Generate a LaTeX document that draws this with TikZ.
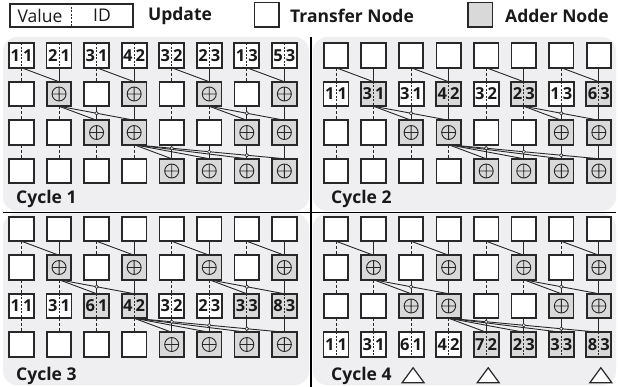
\documentclass[tikz,border=0pt]{standalone}
\usepackage{fontspec}
\setmainfont{Open Sans}
\usetikzlibrary{calc}
\definecolor{panelbg}{RGB}{239,239,241}
\definecolor{addfill}{RGB}{217,217,217}
\definecolor{ink}{RGB}{40,40,40}
\definecolor{txt}{RGB}{25,25,25}
\tikzset{
  box/.style={draw=ink, line width=1.8pt, minimum width=24.5pt, minimum height=24.5pt, inner sep=0pt, outer sep=0pt},
  tnode/.style={box, fill=white},
  anode/.style={box, fill=addfill},
  oplus/.style={path picture={\draw[ink, line width=0.9pt] (path picture bounding box.center) circle (7pt)
      ($(path picture bounding box.center)+(-7pt,0pt)$) -- ++(14pt,0pt)
      ($(path picture bounding box.center)+(0pt,-7pt)$) -- ++(0pt,14pt);}},
  divided/.style={path picture={\draw[ink, line width=0.9pt, dash pattern=on 2pt off 1.5pt]
      (path picture bounding box.north) -- (path picture bounding box.south);}},
  labfont/.style={font=\bfseries\fontsize{16.5}{16.5}\selectfont, text=txt},
  conn/.style={draw=ink, line width=0.9pt},
  dconn/.style={draw=ink, line width=0.9pt, dash pattern=on 3pt off 2pt},
  hop/.style={draw=ink, line width=0.6pt, fill=panelbg},
  legtxt/.style={font=\fontsize{17.5}{20}\selectfont, text=txt, inner sep=0pt},
  legbold/.style={font=\bfseries\fontsize{17.5}{20}\selectfont, text=txt, inner sep=0pt},
}
\newcommand\lab[2]{\makebox[12.5pt]{#1}\makebox[12.5pt]{#2}}
\newcommand\adflag[2]{%
  \pgfmathtruncatemacro\isad{((#1==1)&&(mod(#2,2)==1))||((#1==2)&&(mod(#2,4)>=2))||((#1==3)&&(#2>=4))}%
}
% #1 name, #2 x of col 0, #3 y of row 0, #4 labelled row, #5 labels
\newcommand\drawpanel[5]{%
  \foreach \prow in {0,...,3}{%
    \foreach \pcol in {0,...,7}{%
      \adflag{\prow}{\pcol}%
      \ifnum\prow=#4\relax\else
        \ifnum\isad=1
          \node[anode,oplus] (#1r\prow c\pcol) at ({#2+37.55*\pcol},{#3+38.5*\prow}) {};
        \else
          \node[tnode] (#1r\prow c\pcol) at ({#2+37.55*\pcol},{#3+38.5*\prow}) {};
        \fi
      \fi
    }}%
  \foreach \lv/\li [count=\lk from 0] in {#5}{%
    \adflag{#4}{\lk}%
    \ifnum\isad=1
      \node[anode,divided,labfont] (#1r#4c\lk) at ({#2+37.55*\lk},{#3+38.5*#4}) {\lab{\lv}{\li}};
    \else
      \node[tnode,divided,labfont] (#1r#4c\lk) at ({#2+37.55*\lk},{#3+38.5*#4}) {\lab{\lv}{\li}};
    \fi
  }%
  % vertical connectors
  \foreach \prow in {0,1,2}{%
    \foreach \pcol in {0,...,7}{%
      \pgfmathtruncatemacro\nrow{\prow+1}%
      \adflag{\nrow}{\pcol}%
      \ifnum\isad=1
        \draw[conn] (#1r\prow c\pcol.south) -- (#1r\nrow c\pcol.north);
      \else
        \draw[dconn] (#1r\prow c\pcol.south) -- (#1r\nrow c\pcol.north);
      \fi
    }}%
  % diagonal connectors
  \foreach \ha/\hb in {0/1,2/3,4/5,6/7}{\draw[conn] (#1r0c\ha.south) -- (#1r1c\hb.north);}%
  \foreach \ha/\hb in {1/2,1/3,5/6,5/7}{\draw[conn] (#1r1c\ha.south) -- (#1r2c\hb.north);}%
  \foreach \hb in {4,5,6,7}{\draw[conn] (#1r2c3.south) -- (#1r3c\hb.north);}%
  % line jumps
  \foreach \ha/\hb in {1/3,5/7}{\draw[hop] ($(#1r1c\ha.south)!0.5!(#1r2c\hb.north)$) circle (1.8pt);}%
  \foreach \hf in {0.25,0.5,0.75}{\draw[hop] ($(#1r2c3.south)!\hf!(#1r3c7.north)$) circle (1.8pt);}%
}
\begin{document}
\begin{tikzpicture}[x=1pt,y=-1pt]
\useasboundingbox (0,0) rectangle (618,387);
\fill[white] (0,0) rectangle (618,387);
% panels
\fill[panelbg, rounded corners=14pt] (3,37) rectangle (309,211);
\fill[panelbg, rounded corners=14pt] (313,37) rectangle (616,211);
\fill[panelbg, rounded corners=14pt] (3,213.5) rectangle (309,385);
\fill[panelbg, rounded corners=14pt] (313,213.5) rectangle (616,385);
\draw[black, line width=1.1pt] (311,37) -- (311,387);
\draw[black, line width=1.1pt] (3,212.3) -- (616,212.3);
% legend
\node[draw=ink, line width=1.3pt, minimum width=123pt, minimum height=23pt, inner sep=0pt, fill=white] (legval) at (71.5,15.5) {};
\draw[ink, line width=0.9pt, dash pattern=on 2pt off 1.5pt] (legval.north) -- (legval.south);
\node[legtxt] (legvalue) at (40,15.5) {Value};
\node[legtxt] (legid) at (102,15.5) {ID};
\node[legbold] (legupd) at (180,15.5) {Update};
\node[tnode, line width=1.5pt] (legtr) at (266.5,15) {};
\node[legbold, anchor=west] (legtrt) at (290,15.5) {Transfer Node};
\node[anode, line width=1.5pt] (legad) at (480,15) {};
\node[legbold, anchor=west] (legadt) at (505,15.5) {Adder Node};
% panels content
\drawpanel{p1}{21.5}{55.5}{0}{1/1,2/1,3/1,4/2,3/2,2/3,1/3,5/3}
\drawpanel{p2}{336}{55.5}{1}{1/1,3/1,3/1,4/2,3/2,2/3,1/3,6/3}
\drawpanel{p3}{21.5}{229}{2}{1/1,3/1,6/1,4/2,3/2,2/3,3/3,8/3}
\drawpanel{p4}{336}{229}{3}{1/1,3/1,6/1,4/2,7/2,2/3,3/3,8/3}
% cycle labels
\node[legbold, anchor=base west] (cyc1) at (16,204) {Cycle 1};
\node[legbold, anchor=base west] (cyc2) at (331,204) {Cycle 2};
\node[legbold, anchor=base west] (cyc3) at (16,380) {Cycle 3};
\node[legbold, anchor=base west] (cyc4) at (331,380) {Cycle 4};
% triangles
\foreach \tc in {2,4,7}{%
  \draw[ink, line width=1.2pt, fill=white, line join=miter]
    ($(p4r3c\tc.south)+(-9,26)$) -- ($(p4r3c\tc.south)+(13,26)$) -- ($(p4r3c\tc.south)+(2,11)$) -- cycle;
}
\end{tikzpicture}
\end{document}
